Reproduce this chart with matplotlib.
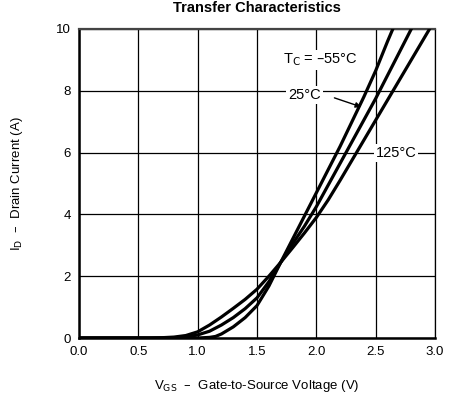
import matplotlib
matplotlib.use('Agg')
import matplotlib.pyplot as plt

plt.rcParams['font.family'] = ['Liberation Sans', 'DejaVu Sans']

# valores (V, A)
v_m55 = [0.0, 0.8, 1.0, 1.1, 1.15, 1.2, 1.3, 1.4, 1.5, 1.6, 1.7, 1.8, 1.9, 2.0, 2.1, 2.2, 2.3, 2.4, 2.5, 2.6, 2.7]
i_m55 = [0.0, 0.0, 0.0, 0.02, 0.05, 0.13, 0.36, 0.66, 1.05, 1.68, 2.45, 3.2, 3.95, 4.7, 5.45, 6.2, 7.0, 7.8, 8.65, 9.6, 10.5]

v_25 = [0.0, 0.7, 0.8, 0.9, 1.0, 1.1, 1.2, 1.3, 1.4, 1.5, 1.6, 1.7, 1.8, 1.9, 2.0, 2.1, 2.2, 2.3, 2.4, 2.5, 2.6, 2.7, 2.8, 2.85]
i_25 = [0.0, 0.0, 0.01, 0.03, 0.1, 0.22, 0.42, 0.66, 0.95, 1.3, 1.82, 2.45, 3.05, 3.62, 4.25, 4.95, 5.65, 6.35, 7.05, 7.75, 8.5, 9.25, 10.0, 10.4]

v_125 = [0.0, 0.6, 0.7, 0.8, 0.9, 1.0, 1.1, 1.2, 1.3, 1.4, 1.5, 1.6, 1.7, 1.8, 1.9, 2.0, 2.1, 2.2, 2.3, 2.4, 2.5, 2.6, 2.7, 2.8, 2.9, 3.0]
i_125 = [0.0, 0.0, 0.01, 0.03, 0.08, 0.2, 0.42, 0.68, 0.96, 1.25, 1.58, 2.0, 2.45, 2.92, 3.4, 3.9, 4.47, 5.1, 5.75, 6.4, 7.05, 7.7, 8.35, 9.0, 9.65, 10.3]

x_ticks = [0.0, 0.5, 1.0, 1.5, 2.0, 2.5, 3.0]
y_ticks = [0, 2, 4, 6, 8, 10]

fig = plt.figure(figsize=(4.5, 3.95), dpi=100)
ax = fig.add_axes([0.1756, 0.1443, 0.7911, 0.7823])

ax.plot(v_m55, i_m55, color='black', lw=2.3, zorder=3)
ax.plot(v_25, i_25, color='black', lw=2.3, zorder=3)
ax.plot(v_125, i_125, color='black', lw=2.3, zorder=3)

ax.set_xlim(0, 3)
ax.set_ylim(0, 10)
ax.set_xticks(x_ticks)
ax.set_xticklabels([f'{t:.1f}' for t in x_ticks])
ax.set_yticks(y_ticks)
ax.tick_params(length=0, labelsize=9.5, pad=6)
ax.grid(True, color='black', lw=0.9)
ax.set_axisbelow(True)

for s in ['left', 'bottom']:
    ax.spines[s].set_linewidth(1.8)
ax.spines['top'].set_linewidth(1.6)
ax.spines['top'].set_color('#444444')
ax.spines['right'].set_linewidth(0.9)

ax.set_title('Transfer Characteristics', fontsize=10.5, fontweight='bold', pad=12)
ax.set_xlabel(r'V$_{\mathrm{GS}}$  –  Gate-to-Source Voltage (V)', fontsize=9.5, labelpad=14)
ax.set_ylabel(r'I$_{\mathrm{D}}$  –  Drain Current (A)', fontsize=9.5, labelpad=22)

box = dict(facecolor='white', edgecolor='none', pad=1.5)
ax.text(1.72, 9.0, r'T$_{\mathrm{C}}$ = –55°C', fontsize=10.5, ha='left', va='center', bbox=box, zorder=4)
ax.text(1.76, 7.85, '25°C', fontsize=10.5, ha='left', va='center', bbox=box, zorder=4)
ax.annotate('', xy=(2.4, 7.45), xytext=(2.13, 7.8),
            arrowprops=dict(arrowstyle='-|>', color='black', lw=1.0, mutation_scale=8), zorder=4)
ax.text(2.5, 6.0, '125°C', fontsize=10.5, ha='left', va='center', bbox=box, zorder=4)

plt.savefig('out.png', dpi=100)
plt.close()
